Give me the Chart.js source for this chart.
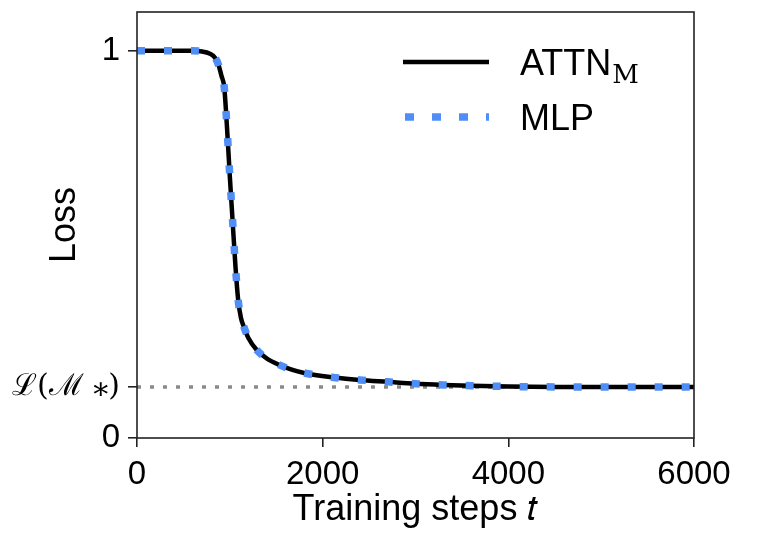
<!DOCTYPE html>
<html>
<head>
<meta charset="utf-8">
<script src="https://cdn.jsdelivr.net/npm/chart.js@4"></script>
<style>
  html, body { margin: 0; padding: 0; background: #ffffff; }
  #wrap { width: 760px; height: 549px; }
</style>
</head>
<body>
<div id="wrap"><canvas id="grafico" width="760" height="549"></canvas></div>
<script>
// training steps and loss (both curves sit on top of each other)
const pasos = [0, 300, 600, 700, 780, 840, 880, 910, 940, 970, 1000, 1030, 1060, 1090, 1120, 1150, 1200, 1290, 1400, 1520, 1650, 1800, 2100, 2400, 2700, 3000, 3300, 3600, 4000, 4500, 5000, 5500, 6000];
const lossAttn = [1.0, 1.0, 1.0, 0.998, 0.993, 0.982, 0.962, 0.935, 0.905, 0.8, 0.675, 0.56, 0.445, 0.356, 0.31, 0.288, 0.258, 0.227, 0.205, 0.19, 0.178, 0.168, 0.157, 0.15, 0.145, 0.14, 0.137, 0.135, 0.133, 0.132, 0.132, 0.132, 0.132];
const lossMlp = [1.0, 1.0, 1.0, 0.998, 0.993, 0.982, 0.962, 0.935, 0.905, 0.8, 0.675, 0.56, 0.445, 0.356, 0.31, 0.288, 0.258, 0.227, 0.205, 0.19, 0.178, 0.168, 0.157, 0.15, 0.145, 0.14, 0.137, 0.135, 0.133, 0.132, 0.132, 0.132, 0.132];
const lossOptima = 0.132; // L(M*)
const ticksX = [0, 2000, 4000, 6000];
const ticksY = [0, lossOptima, 1];

const SANS = "'Liberation Sans', Arial, Helvetica, sans-serif";
const SERIF = "'DejaVu Serif', 'Liberation Serif', serif";
const AZUL = "#4f8ef7";

const puntos = (ys) => pasos.map((t, i) => ({ x: t, y: ys[i] }));

// marco completo + leyenda dibujada a mano (ATTN con subindice M)
const extras = {
  id: "extras",
  afterDraw(chart) {
    const ctx = chart.ctx;
    const a = chart.chartArea;
    ctx.save();
    ctx.strokeStyle = "#222222";
    ctx.lineWidth = 1.6;
    ctx.strokeRect(a.left, a.top, a.right - a.left, a.bottom - a.top);

    const x0 = a.left + 266;
    const y1 = a.top + 50;
    const y2 = a.top + 105;
    ctx.lineWidth = 4.5;
    ctx.strokeStyle = "#000000";
    ctx.beginPath();
    ctx.moveTo(x0, y1);
    ctx.lineTo(x0 + 86, y1);
    ctx.stroke();

    ctx.lineWidth = 7.5;
    ctx.strokeStyle = AZUL;
    ctx.setLineDash([9, 18]);
    ctx.beginPath();
    ctx.moveTo(x0 + 2, y2);
    ctx.lineTo(x0 + 86, y2);
    ctx.stroke();
    ctx.setLineDash([]);

    ctx.fillStyle = "#000000";
    ctx.textBaseline = "alphabetic";
    ctx.textAlign = "left";
    ctx.font = "36px " + SANS;
    ctx.fillText("ATTN", x0 + 117, y1 + 13);
    const w = ctx.measureText("ATTN").width;
    ctx.font = "26px " + SERIF;
    ctx.fillText("M", x0 + 117 + w + 1, y1 + 21);
    ctx.font = "36px " + SANS;
    ctx.fillText("MLP", x0 + 117, y2 + 13);
    ctx.restore();
  },
};

const myChart = new Chart(document.getElementById("grafico").getContext("2d"), {
  type: "line",
  data: {
    datasets: [
      {
        label: "L(M*)",
        data: [{ x: 0, y: lossOptima }, { x: 6000, y: lossOptima }],
        borderColor: "#8a8a8a",
        borderWidth: 3.5,
        borderDash: [4, 9],
        pointRadius: 0,
        order: 3,
      },
      {
        label: "ATTN",
        data: puntos(lossAttn),
        borderColor: "#000000",
        borderWidth: 4.5,
        pointRadius: 0,
        cubicInterpolationMode: "monotone",
        order: 2,
      },
      {
        label: "MLP",
        data: puntos(lossMlp),
        borderColor: AZUL,
        borderWidth: 7.5,
        borderDash: [8, 19],
        borderCapStyle: "butt",
        pointRadius: 0,
        cubicInterpolationMode: "monotone",
        order: 1,
      },
    ],
  },
  options: {
    responsive: false,
    animation: false,
    devicePixelRatio: 1,
    layout: { padding: { left: 0, top: 12, right: 66, bottom: 0 } },
    plugins: {
      legend: { display: false },
      tooltip: { enabled: false },
    },
    scales: {
      x: {
        type: "linear",
        min: 0,
        max: 6000,
        afterBuildTicks: (s) => { s.ticks = ticksX.map((v) => ({ value: v })); },
        afterFit: (s) => { s.height = 111; },
        grid: { drawOnChartArea: false, drawTicks: true, tickLength: 9, color: "#222222", lineWidth: 1.6 },
        border: { display: false },
        ticks: {
          color: "#000000",
          padding: 8,
          maxRotation: 0,
          callback: (v) => String(v),
          font: { family: SANS, size: 33 },
        },
        title: {
          display: true,
          text: "Training steps 𝑡",
          color: "#000000",
          font: { family: SANS, size: 36 },
          padding: { top: 0, bottom: 17 },
        },
      },
      y: {
        type: "linear",
        min: 0,
        max: 1.1,
        afterBuildTicks: (s) => { s.ticks = ticksY.map((v) => ({ value: v })); },
        afterFit: (s) => {
          s.width = 137;
          s.paddingTop = 0;
          s.paddingBottom = 0;
        },
        grid: { drawOnChartArea: false, drawTicks: true, tickLength: 9, color: "#222222", lineWidth: 1.6 },
        border: { display: false },
        ticks: {
          color: "#000000",
          padding: 8,
          callback: (v) => (v === 0 ? "0" : v === 1 ? "1" : "ℒ(ℳ ⁎)"),
          font: (ctx) =>
            ctx.tick && ctx.tick.value !== 0 && ctx.tick.value !== 1
              ? { family: SERIF, size: 30 }
              : { family: SANS, size: 33 },
        },
        title: {
          display: true,
          text: "Loss",
          color: "#000000",
          font: { family: SANS, size: 36 },
          padding: { top: 43, bottom: 0 },
        },
      },
    },
  },
  plugins: [extras],
});
</script>
</body>
</html>
